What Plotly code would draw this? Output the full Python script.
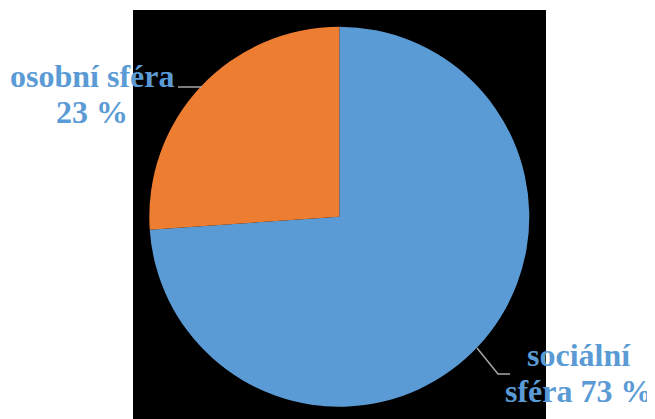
import plotly.graph_objects as go

# the page body has an 8px margin, so the figure sits at (8, 8) in the window
OFF = 8
W, H = 655 - OFF, 419 - OFF

# data
categories = ["sociální sféra", "osobní sféra"]
slice_values = [73.9, 26.1]
label_lines = [["sociální", "sféra 73 %"], ["osobní sféra", "23 %"]]
slice_colors = ["#5B9BD5", "#ED7D31"]

def px_x(x):
    return (x - OFF) / W

def px_y(y):
    return (H - (y - OFF)) / H

cx, cy, r = 339.3, 216.7, 190

fig = go.Figure()
fig.add_trace(go.Pie(
    labels=categories,
    values=slice_values,
    sort=False,
    direction="clockwise",
    rotation=0,
    textinfo="none",
    hoverinfo="label+percent",
    marker=dict(colors=slice_colors, line=dict(width=0)),
    domain=dict(x=[px_x(cx - r), px_x(cx + r)], y=[px_y(cy + r), px_y(cy - r)]),
    showlegend=False,
))

shapes = [
    dict(type="rect", xref="paper", yref="paper", x0=px_x(133), x1=px_x(546),
         y0=0, y1=px_y(10), fillcolor="black", line=dict(width=0), layer="below"),
    dict(type="path", xref="paper", yref="paper",
         path=f"M {px_x(178)} {px_y(87)} L {px_x(202)} {px_y(87)}",
         line=dict(color="#A6A6A6", width=1.5)),
    dict(type="path", xref="paper", yref="paper",
         path=f"M {px_x(477)} {px_y(348)} L {px_x(498)} {px_y(374)} L {px_x(510)} {px_y(374)}",
         line=dict(color="#A6A6A6", width=1.5)),
]

label_font = dict(family="Liberation Serif", size=32, color="#5B9BD5")
label_pos = [(579, [355, 391]), (92, [76, 112])]
annotations = []
for lines, (lx, ys) in zip(label_lines, label_pos):
    for text, ly in zip(lines, ys):
        annotations.append(dict(
            text=f"<b>{text}</b>", x=px_x(lx), y=px_y(ly), xref="paper", yref="paper",
            xanchor="center", yanchor="middle", showarrow=False, font=label_font))

fig.update_layout(
    width=W, height=H,
    margin=dict(l=0, r=0, t=0, b=0),
    paper_bgcolor="white",
    plot_bgcolor="white",
    shapes=shapes,
    annotations=annotations,
)

fig.write_html("out.html")
